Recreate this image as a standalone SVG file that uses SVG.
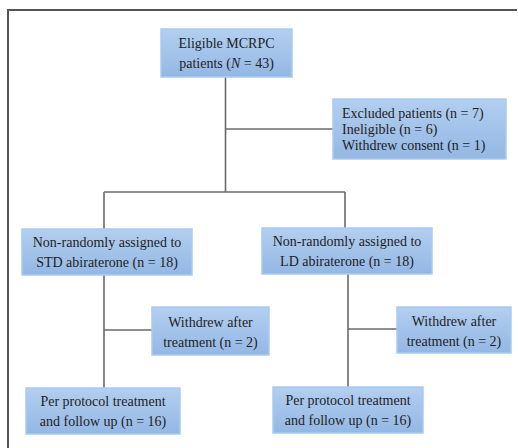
<svg xmlns="http://www.w3.org/2000/svg" width="518" height="448" viewBox="0 0 518 448">
<defs>
<linearGradient id="bg" x1="0" y1="0" x2="0" y2="1">
<stop offset="0" stop-color="#b3cff0"/>
<stop offset="1" stop-color="#93b7e4"/>
</linearGradient>
<style>
.box{fill:url(#bg);stroke:#a9cbf0;stroke-width:1.5}
.t{font-family:"Liberation Serif","Times New Roman",serif;font-size:14px;fill:#1e1e1e}
.c{text-anchor:middle}
.ln{stroke:#6a6a6a;stroke-width:1.6;fill:none}
</style>
</defs>
<rect width="518" height="448" fill="#ffffff"/>
<path d="M8 448 V10 H517" fill="none" stroke="#555555" stroke-width="2"/>
<g id="connectors">
<path class="ln" d="M225.5 77 V192"/>
<path class="ln" d="M225.5 129 H333"/>
<path class="ln" d="M104 192 H345"/>
<path class="ln" d="M104 192 V229"/>
<path class="ln" d="M345 192 V228"/>
<path class="ln" d="M104 275 V388"/>
<path class="ln" d="M104 330 H152"/>
<path class="ln" d="M348 274 V387"/>
<path class="ln" d="M348 329 H397"/>
</g>
<g id="eligible">
<rect class="box" x="161" y="29" width="131" height="48"/>
<text class="t c" x="226.5" y="48">Eligible MCRPC</text>
<text class="t c" x="226.5" y="68">patients (<tspan font-style="italic">N</tspan> = 43)</text>
</g>
<g id="excluded">
<rect class="box" x="333" y="99" width="173" height="60"/>
<text class="t" x="342" y="117.5">Excluded patients (n = 7)</text>
<text class="t" x="342" y="133.5">Ineligible (n = 6)</text>
<text class="t" x="342" y="149.5">Withdrew consent (n = 1)</text>
</g>
<g id="std">
<rect class="box" x="22" y="229" width="170" height="46"/>
<text class="t c" x="107" y="247">Non-randomly assigned to</text>
<text class="t c" x="107" y="267">STD abiraterone (n = 18)</text>
</g>
<g id="ld">
<rect class="box" x="262" y="228" width="170" height="46"/>
<text class="t c" x="347" y="246">Non-randomly assigned to</text>
<text class="t c" x="347" y="266">LD abiraterone (n = 18)</text>
</g>
<g id="withdrew-std">
<rect class="box" x="152" y="307" width="117" height="48"/>
<text class="t c" x="210.5" y="327">Withdrew after</text>
<text class="t c" x="210.5" y="347">treatment (n = 2)</text>
</g>
<g id="withdrew-ld">
<rect class="box" x="397" y="307" width="114" height="46"/>
<text class="t c" x="454" y="326">Withdrew after</text>
<text class="t c" x="454" y="346">treatment (n = 2)</text>
</g>
<g id="pp-std">
<rect class="box" x="26" y="388" width="154" height="46"/>
<text class="t c" x="103" y="406">Per protocol treatment</text>
<text class="t c" x="103" y="426">and follow up (n = 16)</text>
</g>
<g id="pp-ld">
<rect class="box" x="273" y="387" width="150" height="46"/>
<text class="t c" x="348" y="405">Per protocol treatment</text>
<text class="t c" x="348" y="425">and follow up (n = 16)</text>
</g>
</svg>
